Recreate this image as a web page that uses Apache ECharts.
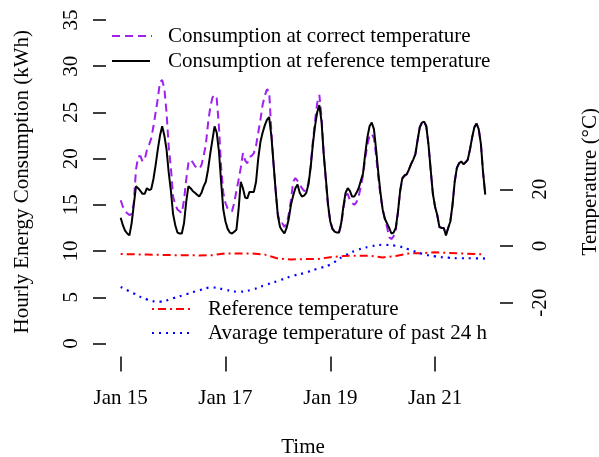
<!DOCTYPE html>
<html><head><meta charset="utf-8">
<script src="https://cdn.jsdelivr.net/npm/echarts@6/dist/echarts.min.js"></script>
<style>html,body{margin:0;padding:0;background:#fff}#c{width:599px;height:457px}</style>
</head><body><div id="c"></div>
<script>
// Hourly consumption (kWh), Jan 15 00:00 .. Jan 21 23:00
const consumptionCorrect = [
15.5,14.8,14.3,14.1,13.9,14.0,15.2,18.8,20.2,20.3,19.7,19.9,20.9,21.5,22.2,23.5,25.0,26.5,28.3,28.5,27.6,25.0,21.3,19.0,
15.9,15.0,14.5,14.3,14.1,15.5,17.7,19.5,19.9,19.6,19.2,19.0,18.9,19.3,20.3,21.5,23.8,25.5,26.6,26.9,26.5,23.5,19.1,16.3,
15.2,14.6,14.3,14.3,15.2,16.5,17.7,19.0,20.6,19.8,19.5,20.2,20.3,20.6,21.4,22.8,24.2,25.8,26.8,27.5,27.3,23.0,19.5,16.5,
14.0,13.0,13.0,12.6,13.0,14.0,15.5,17.5,17.9,17.6,17.2,16.8,16.5,16.6,17.4,19.2,21.8,24.0,26.0,26.9,24.5,20.5,17.5,14.8,
13.2,12.4,12.1,12.0,12.0,12.8,14.5,16.0,16.2,15.5,15.2,15.0,15.3,15.9,17.0,18.2,20.0,21.5,22.5,22.7,22.2,20.3,18.0,16.0,
14.5,13.5,12.6,11.5,11.3,11.6,12.3,14.2,16.5,17.8,18.1,18.3,18.8,19.4,19.9,20.5,22.0,23.4,23.9,24.0,23.5,21.5,18.8,16.2,
14.8,13.9,12.6,12.5,12.5,11.8,12.5,13.2,15.0,17.5,19.0,19.5,19.7,19.4,19.6,19.9,21.0,22.3,23.4,23.8,23.2,21.6,18.5,16.1
];
const consumptionReference = [
13.6,12.8,12.2,11.9,11.7,13.0,15.0,17.0,16.8,16.5,16.2,16.2,16.8,16.6,16.7,17.8,19.3,21.0,22.5,23.5,22.5,21.0,18.5,16.5,
14.0,12.8,12.0,11.9,11.9,13.0,15.3,17.0,16.8,16.5,16.3,16.1,15.9,16.3,17.0,17.5,18.8,20.5,22.0,23.5,22.8,20.8,17.5,14.5,
13.2,12.4,12.0,11.9,12.1,12.3,14.5,17.5,16.8,15.8,15.7,16.4,16.4,16.4,17.5,20.0,21.8,22.8,23.6,24.2,24.5,22.5,19.5,16.5,
13.8,12.6,12.2,11.9,12.5,13.5,15.0,16.0,16.8,17.2,16.3,15.9,16.0,16.3,17.2,19.0,21.5,23.5,25.0,25.8,24.0,20.5,17.8,15.0,
13.2,12.4,12.1,12.0,12.0,13.0,14.8,16.3,16.8,16.5,15.9,15.9,16.3,16.8,17.6,18.4,20.5,22.3,23.5,23.9,23.2,21.0,18.5,16.3,
14.5,13.5,13.0,12.5,11.9,12.0,12.5,14.2,16.5,17.9,18.2,18.3,18.8,19.4,19.9,20.5,22.0,23.4,23.9,24.0,23.5,21.5,18.8,16.2,
14.8,13.9,12.6,12.5,12.5,11.7,12.5,13.2,15.0,17.5,19.0,19.5,19.7,19.4,19.6,19.9,21.0,22.3,23.4,23.8,23.2,21.6,18.5,16.1
];
// Temperatures (°C), read every 6 hours
const tempHours = [0,6,12,18,24,30,36,42,48,54,60,66,72,78,84,90,96,102,108,114,120,126,132,138,144,150,156,162,167];
const referenceTemp = [-2.8,-2.9,-3.0,-3.1,-3.2,-3.2,-3.3,-3.2,-2.6,-2.6,-2.6,-3.0,-4.4,-4.7,-4.6,-4.6,-3.9,-3.5,-3.4,-3.4,-4.0,-3.5,-2.6,-2.5,-2.2,-2.4,-2.6,-2.8,-2.9];
const avgTemp24h = [-14.4,-16.7,-18.8,-19.6,-18.4,-17.0,-15.6,-14.6,-15.4,-16.1,-15.4,-13.8,-12.3,-10.7,-9.5,-8.0,-6.5,-3.6,-1.5,-0.2,0.4,0.1,-1.2,-2.7,-3.6,-4.1,-4.3,-4.3,-4.4];
// Axis ticks
const xTickHours = [0,48,96,144];
const xTickLabels = ['Jan 15','Jan 17','Jan 19','Jan 21'];
const energyTicks = [0,5,10,15,20,25,30,35];
const tempTicks = [-20,0,20];

const FONT = 'Liberation Serif';
const FS = 21;
const pair = arr => arr.map((v,i)=>[i,v]);
const tpair = arr => arr.map((v,i)=>[tempHours[i],v]);
const txt = {fontSize:FS,fontFamily:FONT,color:'#000'};

const chart = echarts.init(document.getElementById('c'), null, {renderer:'canvas'});
chart.setOption({
  animation:false,
  backgroundColor:'#fff',
  textStyle:{fontFamily:FONT},
  grid:{left:106,right:99,top:7,bottom:100.6,containLabel:false,outerBoundsMode:'none'},
  xAxis:{type:'value',min:-6.73,max:173.75,
    axisLine:{show:false,onZero:false},splitLine:{show:false},
    axisTick:{show:true,length:15,customValues:xTickHours,lineStyle:{color:'#000',width:1.5}},
    axisLabel:Object.assign({customValues:xTickHours,margin:32,
      formatter:v=>xTickLabels[xTickHours.indexOf(v)] ?? ''},txt),
    name:'Time',nameLocation:'middle',nameGap:81,nameTextStyle:txt},
  yAxis:[
    {type:'value',position:'left',min:-1.4,max:36.41,
     axisLine:{show:false,onZero:false},splitLine:{show:false},
     axisTick:{show:true,length:13,customValues:energyTicks,lineStyle:{color:'#000',width:1.5}},
     axisLabel:Object.assign({customValues:energyTicks,rotate:90,margin:24},txt),
     name:'Hourly Energy Consumption (kWh)',nameLocation:'middle',nameGap:73,nameRotate:90,
     nameTextStyle:txt},
    {type:'value',position:'right',min:-38.9,max:84.3,
     axisLine:{show:false,onZero:false},splitLine:{show:false},
     axisTick:{show:true,length:13,customValues:tempTicks,lineStyle:{color:'#000',width:1.5}},
     axisLabel:Object.assign({customValues:tempTicks,rotate:90,margin:30},txt),
     name:'Temperature (°C)',nameLocation:'middle',nameGap:80,nameRotate:90,
     nameTextStyle:txt}
  ],
  series:[
    {name:'Consumption at correct temperature',type:'line',yAxisIndex:0,showSymbol:false,
     data:pair(consumptionCorrect),lineStyle:{color:'#a020f0',width:2,type:[8,5]},z:2},
    {name:'Consumption at reference temperature',type:'line',yAxisIndex:0,showSymbol:false,
     data:pair(consumptionReference),lineStyle:{color:'#000',width:2},z:3},
    {name:'Reference temperature',type:'line',yAxisIndex:1,showSymbol:false,
     data:tpair(referenceTemp),lineStyle:{color:'#ff0000',width:2,type:[2,4,8,4]},z:2},
    {name:'Avarage temperature of past 24 h',type:'line',yAxisIndex:1,showSymbol:false,smooth:true,
     data:tpair(avgTemp24h),lineStyle:{color:'#0000ff',width:2.2,type:[2,5]},z:2}
  ],
  graphic:[
    {type:'line',shape:{x1:112,y1:36,x2:152,y2:36},style:{stroke:'#a020f0',lineWidth:2,lineDash:[8,5]}},
    {type:'text',style:{text:'Consumption at correct temperature',x:168,y:36,font:FS+'px "'+FONT+'"',fill:'#000',verticalAlign:'middle'}},
    {type:'line',shape:{x1:112,y1:61,x2:150,y2:61},style:{stroke:'#000',lineWidth:2}},
    {type:'text',style:{text:'Consumption at reference temperature',x:168,y:61,font:FS+'px "'+FONT+'"',fill:'#000',verticalAlign:'middle'}},
    {type:'line',shape:{x1:152,y1:309,x2:192,y2:309},style:{stroke:'#ff0000',lineWidth:2,lineDash:[2,4,8,4]}},
    {type:'text',style:{text:'Reference temperature',x:208,y:309,font:FS+'px "'+FONT+'"',fill:'#000',verticalAlign:'middle'}},
    {type:'line',shape:{x1:152,y1:333,x2:192,y2:333},style:{stroke:'#0000ff',lineWidth:2.2,lineDash:[2,5]}},
    {type:'text',style:{text:'Avarage temperature of past 24 h',x:208,y:333,font:FS+'px "'+FONT+'"',fill:'#000',verticalAlign:'middle'}}
  ]
});
</script></body></html>
